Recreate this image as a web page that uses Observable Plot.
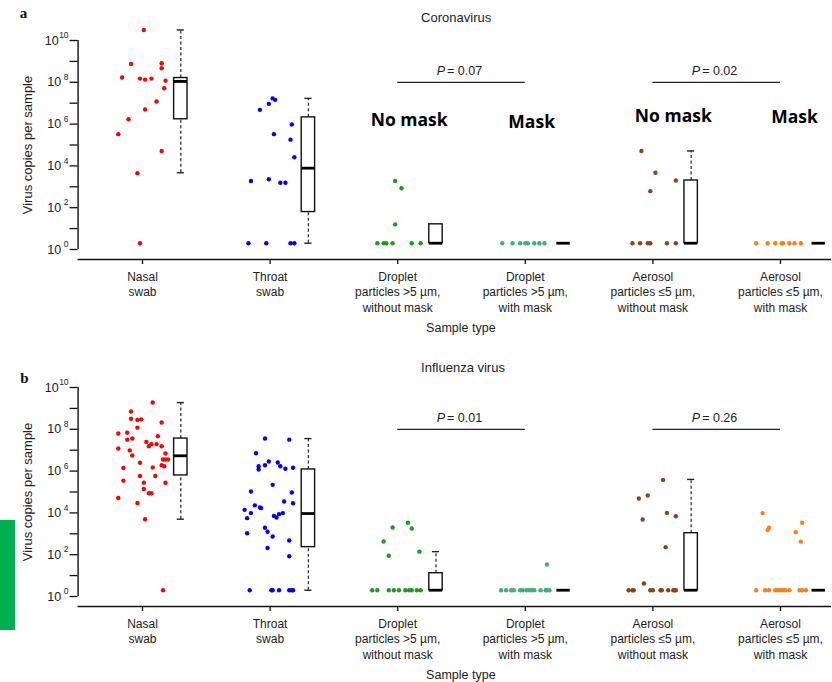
<!DOCTYPE html>
<html>
<head>
<meta charset="utf-8">
<script src="https://cdn.jsdelivr.net/npm/d3@7"></script>
<script src="https://cdn.jsdelivr.net/npm/@observablehq/plot@0.6"></script>
<style>
  body { margin: 0; background: #fff; overflow: hidden; font-family: "Liberation Sans", Arial, sans-serif; }
  #wrap { position: relative; width: 832px; height: 682px; }
  #wrap svg { display: block; }
  #greenbar { position: absolute; left: 0; top: 520px; width: 15px; height: 110px; background: #00b050; }
</style>
</head>
<body>
<div id="wrap"></div>
<script>
// ---------- categories / colours ----------
const categoryLabels = [
  "Nasal\nswab",
  "Throat\nswab",
  "Droplet\nparticles >5 µm,\nwithout mask",
  "Droplet\nparticles >5 µm,\nwith mask",
  "Aerosol\nparticles ≤5 µm,\nwithout mask",
  "Aerosol\nparticles ≤5 µm,\nwith mask"
];
const seriesColors = ["#ff0000", "#0000ff", "#1e9a1e", "#3cb371", "#8b4513", "#ff7f0e"];
const yTickExponents = [0, 2, 4, 6, 8, 10];
const yMinorExponents = [0, 1, 2, 3, 4, 5, 6, 7, 8, 9, 10];

// ---------- a: Coronavirus (virus copies per sample; undetected plotted at 2) ----------
const coronaNasal = [3.2e10, 7.6e8, 8.1e8, 4.7e8, 1.7e8, 1.5e8, 1.35e8, 1.5e8, 1.2e8, 5.2e7, 1.2e7, 5.0e6, 1.7e6, 3.3e5, 5.2e4, 4.5e3, 2];
const coronaNasalJitter = [0.01, -0.09, 0.15, 0.15, -0.16, -0.02, 0.02, 0.07, 0.18, 0.17, 0.11, 0.02, -0.11, -0.19, 0.15, -0.04, -0.02];
const coronaThroat = [1.7e7, 1.45e7, 9.3e6, 4.8e6, 9.5e5, 3.3e5, 1.8e5, 2.6e4, 1.9e3, 2.3e3, 1.55e3, 1.55e3, 2, 2, 2, 2];
const coronaThroatJitter = [0.02, 0.04, -0.01, -0.08, 0.17, 0.03, 0.16, 0.19, -0.15, -0.01, 0.08, 0.12, -0.17, -0.03, 0.16, 0.19];
const coronaDropletNoMask = [1.9e3, 850, 16, 2, 2, 2, 2, 2, 2];
const coronaDropletNoMaskJitter = [-0.02, 0.03, -0.02, -0.16, -0.11, -0.09, -0.04, 0.11, 0.18];
const coronaDropletMask = [2, 2, 2, 2, 2, 2, 2, 2];
const coronaDropletMaskJitter = [-0.18, -0.10, -0.04, 0.00, 0.02, 0.07, 0.11, 0.15];
const coronaAerosolNoMask = [5.2e4, 4.7e3, 620, 2.0e3, 2, 2, 2, 2, 2, 2];
const coronaAerosolNoMaskJitter = [-0.09, 0.02, -0.02, 0.18, -0.16, -0.10, -0.04, -0.02, 0.11, 0.18];
const coronaAerosolMask = [2, 2, 2, 2, 2, 2, 2, 2];
const coronaAerosolMaskJitter = [-0.19, -0.10, -0.04, 0.01, 0.02, 0.07, 0.11, 0.16];
// box statistics
const coronaBoxMin    = [4.7e3, 2, 2, 2, 2, 2];
const coronaBoxQ1     = [1.7e6, 62, 2, 2, 2, 2];
const coronaBoxMedian = [1.1e8, 7.8e3, 2, 2, 2, 2];
const coronaBoxQ3     = [1.6e8, 2.1e6, 16, 2, 2.0e3, 2];
const coronaBoxMax    = [3.2e10, 1.7e7, 16, 2, 5.2e4, 2];
const coronaP = [["0.07", 2, 3], ["0.02", 4, 5]];

// ---------- b: Influenza virus ----------
const fluNasal = [1.9e9, 7.1e8, 3.2e8, 2.8e8, 3.0e8, 2.1e8, 1.2e8, 6.3e7, 6.8e7, 3.2e7, 3.6e7, 4.7e7, 2.5e7, 1.95e7, 1.55e7, 1.95e7, 1.55e7, 1.2e7, 9.8e6, 5.6e6, 6.9e6, 3.6e6, 3.6e6, 3.6e6, 2.5e6, 1.4e6, 1.5e6, 1.9e6, 1.7e6, 3.5e5, 5.8e5, 5.8e5, 2.8e5, 2.75e5, 1.4e5, 8.7e4, 8.7e4, 5.2e4, 3.0e4, 5.0e3, 2];
const fluNasalJitter = [0.08, -0.09, -0.09, -0.04, -0.01, 0.15, -0.04, -0.19, -0.12, -0.12, -0.08, 0.12, 0.03, 0.07, 0.05, 0.11, 0.15, -0.19, -0.10, -0.08, 0.18, 0.16, 0.18, 0.20, -0.02, -0.15, 0.08, 0.15, 0.17, -0.15, -0.02, 0.10, 0.01, 0.18, 0.01, 0.05, 0.07, -0.19, -0.04, 0.02, 0.16];
const fluThroat = [3.6e7, 3.2e7, 7.2e6, 2.9e6, 2.6e6, 1.7e6, 1.2e6, 1.9e6, 1.7e6, 1.3e6, 1.45e6, 2.2e5, 1.05e5, 9.5e4, 3.5e4, 2.9e4, 2.3e4, 1.8e4, 1.7e4, 1.4e4, 9.8e3, 8.7e3, 9.8e3, 7.2e3, 6.0e3, 5.6e3, 1.95e3, 1.26e3, 1.07e3, 740, 480, 210, 85, 2, 2, 2, 2, 2, 2, 2];
const fluThroatJitter = [-0.04, 0.15, -0.11, -0.01, 0.06, -0.09, -0.09, -0.04, 0.08, 0.12, 0.18, 0.02, -0.15, 0.17, 0.11, 0.18, -0.12, -0.08, -0.07, -0.20, -0.15, 0.07, 0.10, 0.03, 0.05, -0.18, -0.04, -0.02, -0.18, 0.02, 0.15, -0.02, 0.15, -0.16, 0.01, 0.02, 0.07, 0.15, 0.17, 0.18];
const fluDropletNoMask = [3.4e3, 2.0e3, 1.8e3, 430, 89, 140, 2, 2, 2, 2, 2, 2, 2, 2, 2, 2];
const fluDropletNoMaskJitter = [0.08, -0.04, 0.11, -0.11, -0.07, 0.17, -0.20, -0.16, -0.07, -0.03, 0.01, 0.06, 0.09, 0.11, 0.15, 0.18];
const fluDropletMask = [34, 2, 2, 2, 2, 2, 2, 2, 2, 2, 2, 2, 2, 2, 2];
const fluDropletMaskJitter = [0.17, -0.19, -0.15, -0.11, -0.09, -0.04, -0.02, 0.01, 0.03, 0.05, 0.07, 0.12, 0.16, 0.17, 0.19];
const fluAerosolNoMask = [3.8e5, 4.9e4, 6.8e4, 1.0e4, 6.9e3, 4.8e3, 230, 4.2, 2, 2, 2, 2, 2, 2, 2, 2, 2, 2, 2];
const fluAerosolNoMaskJitter = [0.08, -0.11, -0.04, 0.11, 0.18, -0.08, 0.10, -0.07, -0.19, -0.16, -0.15, -0.02, 0.00, 0.06, 0.07, 0.12, 0.16, 0.17, 0.18];
const fluAerosolMask = [9.8e3, 1.95e3, 1.5e3, 3.4e3, 1.2e3, 420, 2, 2, 2, 2, 2, 2, 2, 2, 2, 2, 2, 2];
const fluAerosolMaskJitter = [-0.14, -0.09, -0.10, 0.17, 0.12, 0.16, -0.19, -0.12, -0.09, -0.04, -0.02, 0.00, 0.02, 0.04, 0.07, 0.15, 0.17, 0.20];
const fluBoxMin    = [5.0e3, 2, 2, 2, 2, 2];
const fluBoxQ1     = [6.2e5, 230, 2, 2, 2, 2];
const fluBoxMedian = [5.4e6, 9.3e3, 2, 2, 2, 2];
const fluBoxQ3     = [3.6e7, 1.2e6, 13, 2, 1.07e3, 2];
const fluBoxMax    = [1.9e9, 3.6e7, 140, 2, 4.0e5, 2];
const fluP = [["0.01", 2, 3], ["0.26", 4, 5]];

const maskLabels = [["No mask", 2.09, 1.5e6], ["Mask", 3.05, 1.2e6], ["No mask", 4.16, 2.3e6], ["Mask", 5.11, 2.1e6]];

// ---------- layout constants ----------
const X_MIN = -0.505, X_MAX = 5.4;
const Y_MIN = Math.pow(10, -10 / 20.9);   // x-axis line sits a little below 10^0
const BOX_OFF = 0.3, BOX_HALF = 0.0525, CAP_HALF = 0.028;
const FONT = "Liberation Sans, Arial, sans-serif";

function panel(opt) {
  const points = opt.groups.flatMap(([vals, jit], cat) => vals.map((v, i) => ({cat, value: v, jitter: jit[i]})));
  const boxes = categoryLabels.map((_, cat) => ({
    cat, min: opt.box[0][cat], q1: opt.box[1][cat], med: opt.box[2][cat], q3: opt.box[3][cat], max: opt.box[4][cat]
  }));
  const bx = d => d.cat + BOX_OFF;
  const marks = [
    // axes
    Plot.ruleX([X_MIN], {y1: 1, y2: 1e10, stroke: "#111", strokeWidth: 1.4}),
    Plot.ruleY([Y_MIN], {stroke: "#111", strokeWidth: 1.5}),
    Plot.axisY(yMinorExponents.map(e => 10 ** e), {tickSize: 8, tickFormat: () => "", stroke: "#111", strokeWidth: 1.3}),
    Plot.text(yTickExponents.filter(e => e < 10), {y: e => 10 ** e, text: () => "10", frameAnchor: "left", textAnchor: "end", lineAnchor: "middle", dx: -17, fontSize: 12.5, fill: "#222"}),
    Plot.text(yTickExponents.filter(e => e >= 10), {y: e => 10 ** e, text: () => "10", frameAnchor: "left", textAnchor: "end", lineAnchor: "middle", dx: -19.5, fontSize: 12.5, fill: "#222"}),
    Plot.text(yTickExponents, {y: e => 10 ** e, text: e => String(e), frameAnchor: "left", textAnchor: "end", lineAnchor: "middle", dx: -9.5, dy: -5, fontSize: 8.5, fill: "#222"}),
    Plot.axisX(d3.range(categoryLabels.length), {tickSize: 5, tickPadding: 5, tickFormat: i => categoryLabels[i], fontSize: 12, lineHeight: 1.3, stroke: "#111", strokeWidth: 1.3, fill: "#222", label: null}),
    Plot.text(["Virus copies per sample"], {frameAnchor: "left", textAnchor: "middle", lineAnchor: "middle", y: () => 1e5, dx: -50, rotate: -90, fontSize: 13, fill: "#222"}),
    Plot.text([opt.title], {frameAnchor: "top-left", textAnchor: "start", lineAnchor: "middle", dx: 343, dy: opt.titleDy, fontSize: 13, fill: "#222"}),
    Plot.text(["Sample type"], {frameAnchor: "bottom-left", textAnchor: "start", lineAnchor: "middle", dx: 348, dy: 68.5, fontSize: 12.5, fill: "#222"}),
    Plot.text([opt.letter], {frameAnchor: "top-left", textAnchor: "middle", lineAnchor: "middle", dx: opt.letterDx, dy: opt.letterDy, fontSize: 15, fontWeight: "bold", fontFamily: "Liberation Serif, serif", fill: "#111"}),
    // P-values
    Plot.ruleY(opt.pvals, {y: () => 1e8, x1: d => d[1], x2: d => d[2], stroke: "#222", strokeWidth: 1.2}),
    Plot.text(opt.pvals, {x: d => (d[1] + d[2]) / 2, y: () => 1e8, text: () => "P", fontStyle: "italic", textAnchor: "end", dx: -16.5, dy: -11, fontSize: 12.5, fill: "#222"}),
    Plot.text(opt.pvals, {x: d => (d[1] + d[2]) / 2, y: () => 1e8, text: d => "= " + d[0], textAnchor: "start", dx: -14.5, dy: -11, fontSize: 12.5, fill: "#222"}),
    // points
    Plot.dot(points, {x: d => d.cat + d.jitter, y: "value", r: 2.2, fill: d => seriesColors[d.cat], stroke: "none"}),
    // whiskers
    Plot.ruleX(boxes.filter(d => d.max > d.q3), {x: bx, y1: "q3", y2: "max", stroke: "#333", strokeWidth: 1.3, strokeDasharray: "3,2.5"}),
    Plot.ruleX(boxes.filter(d => d.min < d.q1), {x: bx, y1: "min", y2: "q1", stroke: "#333", strokeWidth: 1.3, strokeDasharray: "3,2.5"}),
    Plot.ruleY(boxes.filter(d => d.max > d.q3), {y: "max", x1: d => bx(d) - CAP_HALF, x2: d => bx(d) + CAP_HALF, stroke: "#222", strokeWidth: 1.4}),
    Plot.ruleY(boxes.filter(d => d.min < d.q1), {y: "min", x1: d => bx(d) - CAP_HALF, x2: d => bx(d) + CAP_HALF, stroke: "#222", strokeWidth: 1.4}),
    // boxes
    Plot.rect(boxes.filter(d => d.q3 > d.q1), {x1: d => bx(d) - BOX_HALF, x2: d => bx(d) + BOX_HALF, y1: "q1", y2: "q3", fill: "white", stroke: "#111", strokeWidth: 1.4}),
    Plot.ruleY(boxes, {y: "med", x1: d => bx(d) - BOX_HALF, x2: d => bx(d) + BOX_HALF, stroke: "#000", strokeWidth: 2.8})
  ];
  if (opt.maskLabels) {
    marks.push(Plot.text(opt.maskLabels, {x: d => d[1], y: d => d[2], text: d => d[0], fontSize: 17.5, fontWeight: "bold", fontFamily: "Open Sans, sans-serif", fill: "#000"}));
  }
  return Plot.plot({
    width: 832,
    height: opt.height,
    marginTop: 40,
    marginBottom: opt.height - 259,
    marginLeft: 77.6,
    marginRight: 1,
    style: {fontFamily: FONT, background: "white", overflow: "visible"},
    x: {type: "linear", domain: [X_MIN, X_MAX], axis: null},
    y: {type: "log", domain: [Y_MIN, 1e10], axis: null},
    color: {type: "identity"},
    marks
  });
}

const wrap = document.getElementById("wrap");
wrap.appendChild(panel({
  title: "Coronavirus", titleDy: -23, letter: "a", letterDx: -54.6, letterDy: -27, height: 347,
  groups: [[coronaNasal, coronaNasalJitter], [coronaThroat, coronaThroatJitter], [coronaDropletNoMask, coronaDropletNoMaskJitter],
           [coronaDropletMask, coronaDropletMaskJitter], [coronaAerosolNoMask, coronaAerosolNoMaskJitter], [coronaAerosolMask, coronaAerosolMaskJitter]],
  box: [coronaBoxMin, coronaBoxQ1, coronaBoxMedian, coronaBoxQ3, coronaBoxMax],
  pvals: coronaP, maskLabels
}));
wrap.appendChild(panel({
  title: "Influenza virus", titleDy: -19.3, letter: "b", letterDx: -53.6, letterDy: -9, height: 335,
  groups: [[fluNasal, fluNasalJitter], [fluThroat, fluThroatJitter], [fluDropletNoMask, fluDropletNoMaskJitter],
           [fluDropletMask, fluDropletMaskJitter], [fluAerosolNoMask, fluAerosolNoMaskJitter], [fluAerosolMask, fluAerosolMaskJitter]],
  box: [fluBoxMin, fluBoxQ1, fluBoxMedian, fluBoxQ3, fluBoxMax],
  pvals: fluP, maskLabels: null
}));
const bar = document.createElement("div");
bar.id = "greenbar";
wrap.appendChild(bar);
</script>
</body>
</html>
